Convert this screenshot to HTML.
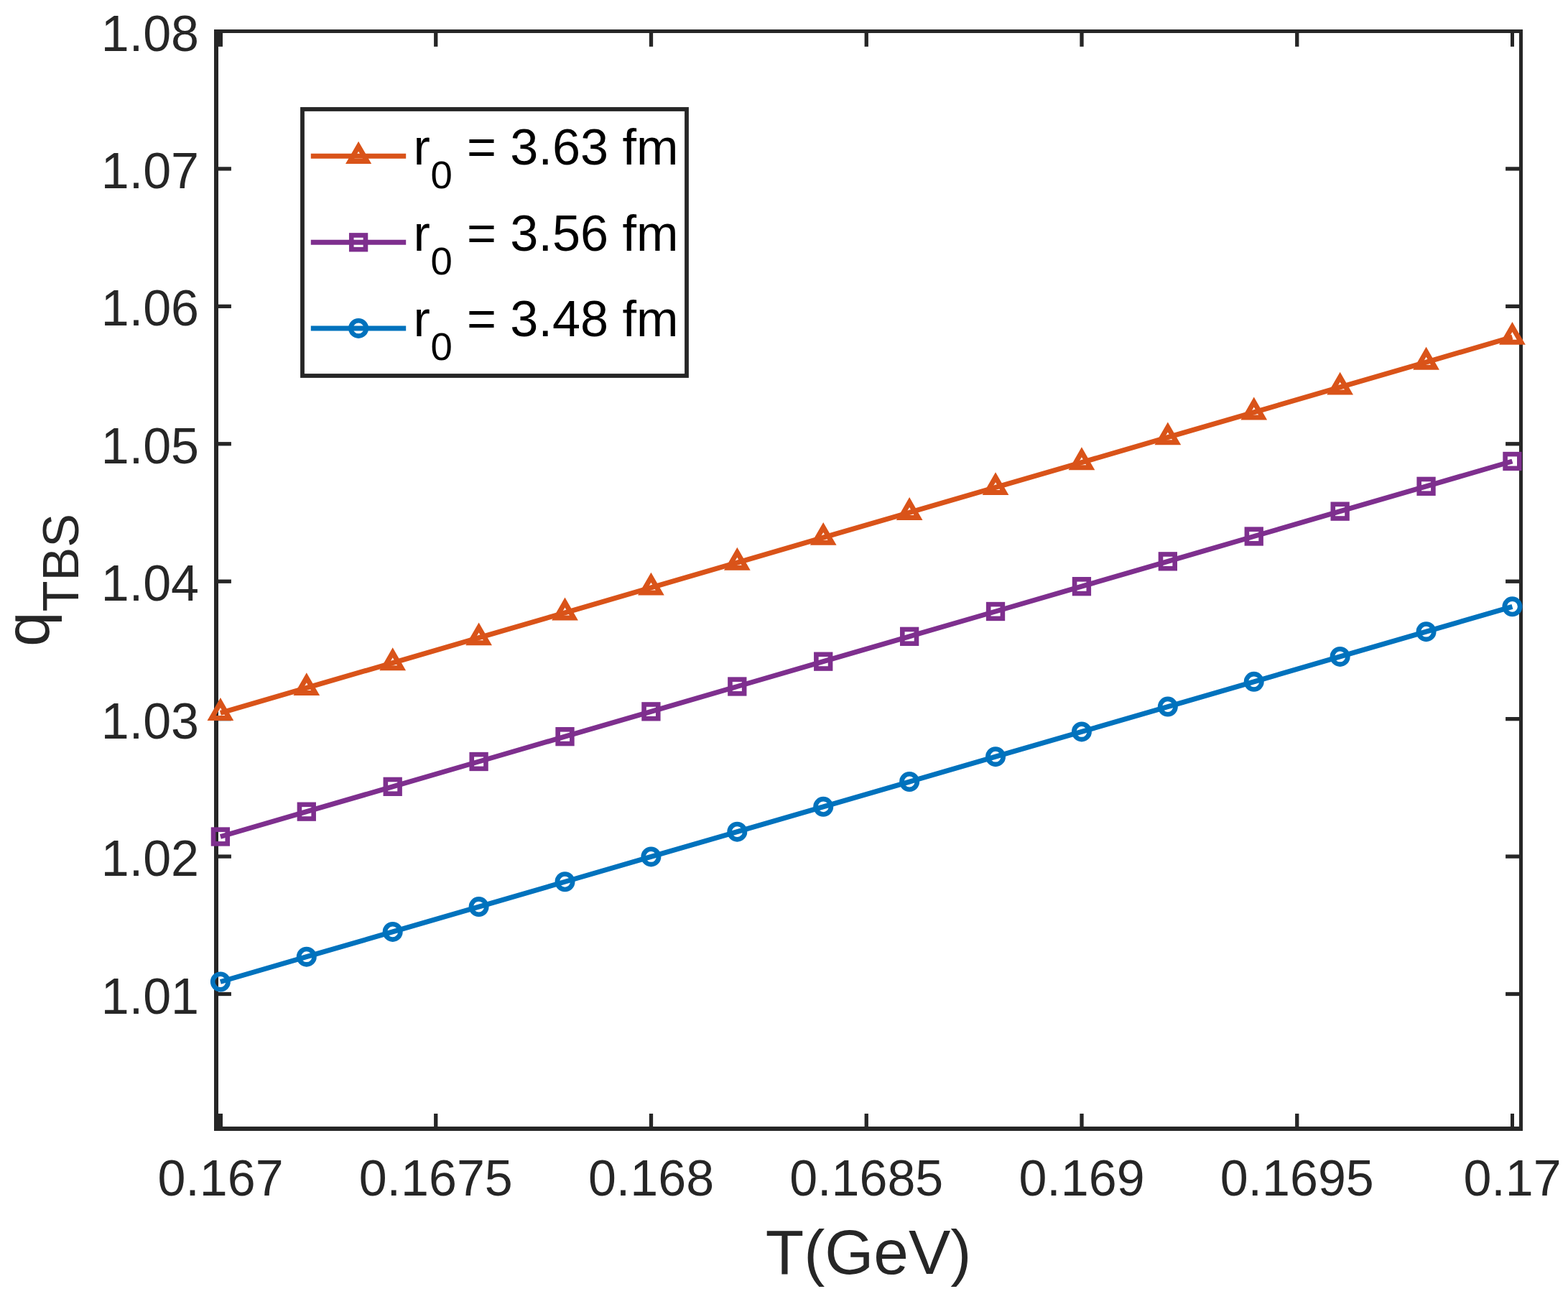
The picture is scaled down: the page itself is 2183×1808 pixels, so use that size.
<!DOCTYPE html>
<html lang="en">
<head>
<meta charset="utf-8">
<title>q_TBS versus T(GeV)</title>
<style>
html,body{margin:0;padding:0;background:#fff;}
body{width:2183px;height:1808px;overflow:hidden;}
svg{display:block;}
text{font-family:'Liberation Sans', sans-serif;}
.tick{font-size:70px;fill:#262626;}
.lab{font-size:87.5px;fill:#262626;}
.leg{font-size:70.2px;fill:#000;}
</style>
</head>
<body>
<svg width="2183" height="1808" viewBox="0 0 2183 1808">
<rect x="0" y="0" width="2183" height="1808" fill="#ffffff"/>
<g fill="#262626" shape-rendering="crispEdges">
<rect x="298" y="41" width="6" height="1533"/>
<rect x="2115" y="41" width="5" height="1533"/>
<rect x="298" y="41" width="1822" height="5"/>
<rect x="298" y="1568" width="1822" height="6"/>
</g>
<g fill="#262626">
<rect x="304" y="45" width="6" height="19.9"/>
<rect x="304" y="1550" width="6" height="19"/>
<rect x="604.1" y="45" width="5.3" height="19.9"/>
<rect x="604.1" y="1550" width="5.3" height="19"/>
<rect x="903.85" y="45" width="5.3" height="19.9"/>
<rect x="903.85" y="1550" width="5.3" height="19"/>
<rect x="1203.6" y="45" width="5.3" height="19.9"/>
<rect x="1203.6" y="1550" width="5.3" height="19"/>
<rect x="1503.35" y="45" width="5.3" height="19.9"/>
<rect x="1503.35" y="1550" width="5.3" height="19"/>
<rect x="1803.1" y="45" width="5.3" height="19.9"/>
<rect x="1803.1" y="1550" width="5.3" height="19"/>
<rect x="2103" y="45" width="5" height="19.9"/>
<rect x="2103" y="1550" width="5" height="19"/>
<rect x="303" y="232.28" width="18.9" height="5.3"/>
<rect x="2096.1" y="232.28" width="19.9" height="5.3"/>
<rect x="303" y="423.71" width="18.9" height="5.3"/>
<rect x="2096.1" y="423.71" width="19.9" height="5.3"/>
<rect x="303" y="615.14" width="18.9" height="5.3"/>
<rect x="2096.1" y="615.14" width="19.9" height="5.3"/>
<rect x="303" y="806.56" width="18.9" height="5.3"/>
<rect x="2096.1" y="806.56" width="19.9" height="5.3"/>
<rect x="303" y="997.99" width="18.9" height="5.3"/>
<rect x="2096.1" y="997.99" width="19.9" height="5.3"/>
<rect x="303" y="1189.42" width="18.9" height="5.3"/>
<rect x="2096.1" y="1189.42" width="19.9" height="5.3"/>
<rect x="303" y="1380.85" width="18.9" height="5.3"/>
<rect x="2096.1" y="1380.85" width="19.9" height="5.3"/>
</g>
<g class="tick" text-anchor="middle">
<text x="307" y="1663.8">0.167</text>
<text x="606.75" y="1663.8">0.1675</text>
<text x="906.5" y="1663.8">0.168</text>
<text x="1206.25" y="1663.8">0.1685</text>
<text x="1506" y="1663.8">0.169</text>
<text x="1805.75" y="1663.8">0.1695</text>
<text x="2105.5" y="1663.8">0.17</text>
</g>
<g class="tick" text-anchor="end">
<text x="277" y="70.5">1.08</text>
<text x="277" y="261.93">1.07</text>
<text x="277" y="453.36">1.06</text>
<text x="277" y="644.79">1.05</text>
<text x="277" y="836.21">1.04</text>
<text x="277" y="1027.64">1.03</text>
<text x="277" y="1219.07">1.02</text>
<text x="277" y="1410.5">1.01</text>
</g>
<text class="lab" x="1209.1" y="1772.6" text-anchor="middle">T(GeV)</text>
<text class="lab" transform="translate(68 807.5) rotate(-90)" text-anchor="middle">q<tspan dy="41" font-size="70">TBS</tspan></text>
<g>
<polyline fill="none" stroke="#D95319" stroke-width="7" stroke-linecap="butt" stroke-linejoin="round" points="306.9,992.3 426.8,957.43 546.71,922.55 666.61,887.68 786.51,852.81 906.42,817.93 1026.32,783.06 1146.22,748.19 1266.13,713.31 1386.03,678.44 1505.93,643.57 1625.84,608.69 1745.74,573.82 1865.64,538.95 1985.55,504.07 2105.45,469.2"/>
<path d="M306.9 978.1 L319.2 999.4 L294.6 999.4 Z" fill="none" stroke="#D95319" stroke-width="7" stroke-linejoin="miter" stroke-miterlimit="10"/>
<path d="M426.8 943.22 L439.1 964.53 L414.5 964.53 Z" fill="none" stroke="#D95319" stroke-width="7" stroke-linejoin="miter" stroke-miterlimit="10"/>
<path d="M546.71 908.35 L559.01 929.65 L534.41 929.65 Z" fill="none" stroke="#D95319" stroke-width="7" stroke-linejoin="miter" stroke-miterlimit="10"/>
<path d="M666.61 873.48 L678.91 894.78 L654.31 894.78 Z" fill="none" stroke="#D95319" stroke-width="7" stroke-linejoin="miter" stroke-miterlimit="10"/>
<path d="M786.51 838.6 L798.81 859.91 L774.21 859.91 Z" fill="none" stroke="#D95319" stroke-width="7" stroke-linejoin="miter" stroke-miterlimit="10"/>
<path d="M906.42 803.73 L918.72 825.03 L894.12 825.03 Z" fill="none" stroke="#D95319" stroke-width="7" stroke-linejoin="miter" stroke-miterlimit="10"/>
<path d="M1026.32 768.86 L1038.62 790.16 L1014.02 790.16 Z" fill="none" stroke="#D95319" stroke-width="7" stroke-linejoin="miter" stroke-miterlimit="10"/>
<path d="M1146.22 733.98 L1158.52 755.29 L1133.92 755.29 Z" fill="none" stroke="#D95319" stroke-width="7" stroke-linejoin="miter" stroke-miterlimit="10"/>
<path d="M1266.13 699.11 L1278.43 720.41 L1253.83 720.41 Z" fill="none" stroke="#D95319" stroke-width="7" stroke-linejoin="miter" stroke-miterlimit="10"/>
<path d="M1386.03 664.24 L1398.33 685.54 L1373.73 685.54 Z" fill="none" stroke="#D95319" stroke-width="7" stroke-linejoin="miter" stroke-miterlimit="10"/>
<path d="M1505.93 629.36 L1518.23 650.67 L1493.63 650.67 Z" fill="none" stroke="#D95319" stroke-width="7" stroke-linejoin="miter" stroke-miterlimit="10"/>
<path d="M1625.84 594.49 L1638.14 615.79 L1613.54 615.79 Z" fill="none" stroke="#D95319" stroke-width="7" stroke-linejoin="miter" stroke-miterlimit="10"/>
<path d="M1745.74 559.62 L1758.04 580.92 L1733.44 580.92 Z" fill="none" stroke="#D95319" stroke-width="7" stroke-linejoin="miter" stroke-miterlimit="10"/>
<path d="M1865.64 524.74 L1877.94 546.05 L1853.34 546.05 Z" fill="none" stroke="#D95319" stroke-width="7" stroke-linejoin="miter" stroke-miterlimit="10"/>
<path d="M1985.55 489.87 L1997.85 511.17 L1973.25 511.17 Z" fill="none" stroke="#D95319" stroke-width="7" stroke-linejoin="miter" stroke-miterlimit="10"/>
<path d="M2105.45 455 L2117.75 476.3 L2093.15 476.3 Z" fill="none" stroke="#D95319" stroke-width="7" stroke-linejoin="miter" stroke-miterlimit="10"/>
</g>
<g>
<polyline fill="none" stroke="#7E2F8E" stroke-width="7" stroke-linecap="butt" stroke-linejoin="round" points="306.9,1164.5 426.8,1129.67 546.71,1094.83 666.61,1060 786.51,1025.17 906.42,990.33 1026.32,955.5 1146.22,920.67 1266.13,885.83 1386.03,851 1505.93,816.17 1625.84,781.33 1745.74,746.5 1865.64,711.67 1985.55,676.83 2105.45,642"/>
<rect x="297.05" y="1154.65" width="19.7" height="19.7" fill="none" stroke="#7E2F8E" stroke-width="6.6"/>
<rect x="416.95" y="1119.82" width="19.7" height="19.7" fill="none" stroke="#7E2F8E" stroke-width="6.6"/>
<rect x="536.86" y="1084.98" width="19.7" height="19.7" fill="none" stroke="#7E2F8E" stroke-width="6.6"/>
<rect x="656.76" y="1050.15" width="19.7" height="19.7" fill="none" stroke="#7E2F8E" stroke-width="6.6"/>
<rect x="776.66" y="1015.32" width="19.7" height="19.7" fill="none" stroke="#7E2F8E" stroke-width="6.6"/>
<rect x="896.57" y="980.48" width="19.7" height="19.7" fill="none" stroke="#7E2F8E" stroke-width="6.6"/>
<rect x="1016.47" y="945.65" width="19.7" height="19.7" fill="none" stroke="#7E2F8E" stroke-width="6.6"/>
<rect x="1136.37" y="910.82" width="19.7" height="19.7" fill="none" stroke="#7E2F8E" stroke-width="6.6"/>
<rect x="1256.28" y="875.98" width="19.7" height="19.7" fill="none" stroke="#7E2F8E" stroke-width="6.6"/>
<rect x="1376.18" y="841.15" width="19.7" height="19.7" fill="none" stroke="#7E2F8E" stroke-width="6.6"/>
<rect x="1496.08" y="806.32" width="19.7" height="19.7" fill="none" stroke="#7E2F8E" stroke-width="6.6"/>
<rect x="1615.99" y="771.48" width="19.7" height="19.7" fill="none" stroke="#7E2F8E" stroke-width="6.6"/>
<rect x="1735.89" y="736.65" width="19.7" height="19.7" fill="none" stroke="#7E2F8E" stroke-width="6.6"/>
<rect x="1855.79" y="701.82" width="19.7" height="19.7" fill="none" stroke="#7E2F8E" stroke-width="6.6"/>
<rect x="1975.7" y="666.98" width="19.7" height="19.7" fill="none" stroke="#7E2F8E" stroke-width="6.6"/>
<rect x="2095.6" y="632.15" width="19.7" height="19.7" fill="none" stroke="#7E2F8E" stroke-width="6.6"/>
</g>
<g>
<polyline fill="none" stroke="#0072BD" stroke-width="7" stroke-linecap="butt" stroke-linejoin="round" points="306.9,1366.5 426.8,1331.69 546.71,1296.88 666.61,1262.07 786.51,1227.26 906.42,1192.45 1026.32,1157.64 1146.22,1122.83 1266.13,1088.02 1386.03,1053.21 1505.93,1018.4 1625.84,983.59 1745.74,948.78 1865.64,913.97 1985.55,879.16 2105.45,844.35"/>
<circle cx="306.9" cy="1366.5" r="10.7" fill="none" stroke="#0072BD" stroke-width="6.6"/>
<circle cx="426.8" cy="1331.69" r="10.7" fill="none" stroke="#0072BD" stroke-width="6.6"/>
<circle cx="546.71" cy="1296.88" r="10.7" fill="none" stroke="#0072BD" stroke-width="6.6"/>
<circle cx="666.61" cy="1262.07" r="10.7" fill="none" stroke="#0072BD" stroke-width="6.6"/>
<circle cx="786.51" cy="1227.26" r="10.7" fill="none" stroke="#0072BD" stroke-width="6.6"/>
<circle cx="906.42" cy="1192.45" r="10.7" fill="none" stroke="#0072BD" stroke-width="6.6"/>
<circle cx="1026.32" cy="1157.64" r="10.7" fill="none" stroke="#0072BD" stroke-width="6.6"/>
<circle cx="1146.22" cy="1122.83" r="10.7" fill="none" stroke="#0072BD" stroke-width="6.6"/>
<circle cx="1266.13" cy="1088.02" r="10.7" fill="none" stroke="#0072BD" stroke-width="6.6"/>
<circle cx="1386.03" cy="1053.21" r="10.7" fill="none" stroke="#0072BD" stroke-width="6.6"/>
<circle cx="1505.93" cy="1018.4" r="10.7" fill="none" stroke="#0072BD" stroke-width="6.6"/>
<circle cx="1625.84" cy="983.59" r="10.7" fill="none" stroke="#0072BD" stroke-width="6.6"/>
<circle cx="1745.74" cy="948.78" r="10.7" fill="none" stroke="#0072BD" stroke-width="6.6"/>
<circle cx="1865.64" cy="913.97" r="10.7" fill="none" stroke="#0072BD" stroke-width="6.6"/>
<circle cx="1985.55" cy="879.16" r="10.7" fill="none" stroke="#0072BD" stroke-width="6.6"/>
<circle cx="2105.45" cy="844.35" r="10.7" fill="none" stroke="#0072BD" stroke-width="6.6"/>
</g>
<rect x="421" y="152" width="535" height="371" fill="#ffffff" stroke="#262626" stroke-width="5.8"/>
<line x1="432.8" y1="217.3" x2="565.2" y2="217.3" stroke="#D95319" stroke-width="7"/>
<path d="M499.1 203.64 L511.1 224.43 L487.1 224.43 Z" fill="none" stroke="#D95319" stroke-width="7" stroke-linejoin="miter" stroke-miterlimit="10"/>
<text class="leg" x="575.5" y="228.6">r<tspan dy="33" dx="0.7" font-size="54.5">0</tspan><tspan dy="-33" dx="0.5"> = 3.63 fm</tspan></text>
<line x1="432.8" y1="337.3" x2="565.2" y2="337.3" stroke="#7E2F8E" stroke-width="7"/>
<rect x="489.25" y="327.45" width="19.7" height="19.7" fill="none" stroke="#7E2F8E" stroke-width="6.6"/>
<text class="leg" x="575.5" y="348.6">r<tspan dy="33" dx="0.7" font-size="54.5">0</tspan><tspan dy="-33" dx="0.5"> = 3.56 fm</tspan></text>
<line x1="432.8" y1="456.9" x2="565.2" y2="456.9" stroke="#0072BD" stroke-width="7"/>
<circle cx="499.1" cy="456.9" r="10.7" fill="none" stroke="#0072BD" stroke-width="6.6"/>
<text class="leg" x="575.5" y="468.2">r<tspan dy="33" dx="0.7" font-size="54.5">0</tspan><tspan dy="-33" dx="0.5"> = 3.48 fm</tspan></text>
</svg>
</body>
</html>
